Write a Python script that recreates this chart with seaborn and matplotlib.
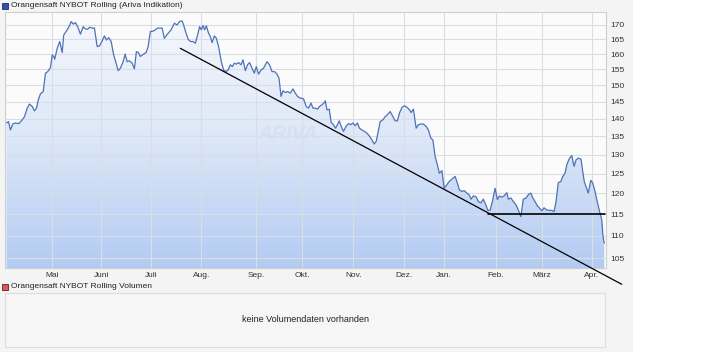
import numpy as np
import pandas as pd
import seaborn as sns
import matplotlib.pyplot as plt
from matplotlib.patches import Rectangle
from matplotlib.colors import LinearSegmentedColormap
from matplotlib.ticker import FixedLocator, FixedFormatter, NullLocator

# Position auf der Zeitachse (Handelstage ab Start) und Kurs
tag = [
    0.4, 1.2, 2.0, 2.9, 4.0, 5.3, 6.7, 7.6, 8.7, 9.6, 10.7, 11.6, 12.4, 13.1, 14.0, 15.1,
    16.0, 16.9, 18.0, 18.7, 19.3, 19.7, 20.7, 21.7, 22.7, 23.3, 24.7, 25.6, 26.3, 27.1,
    28.0, 28.9, 30.0, 31.1, 32.0, 32.9, 33.7, 34.7, 35.6, 36.7, 37.6, 38.7, 39.6, 40.4,
    41.3, 42.3, 43.3, 44.3, 45.1, 46.0, 47.1, 47.9, 48.7, 49.6, 50.7, 51.6, 52.4, 53.2,
    54.0, 55.1, 56.3, 57.1, 58.0, 59.3,
    60.9, 62.7, 63.6, 64.9, 66.3, 67.6, 68.7, 69.7, 70.7, 71.3, 72.3, 73.1, 74.0, 75.1,
    76.0, 76.9, 77.7, 78.4, 79.1, 79.7, 80.4, 81.3, 82.0, 82.7, 83.6, 84.4, 85.3, 86.4,
    87.3, 88.3, 89.1, 90.0, 90.8, 91.6, 92.4, 93.3, 94.3, 95.1, 96.0, 96.9, 97.7, 98.7,
    99.6, 100.4, 101.3, 102.3, 103.3, 104.7, 105.7, 106.7, 107.7, 108.7, 109.5, 110.3,
    111.1, 112.0, 112.9, 114.0, 115.1, 116.0, 116.9, 118.0,
    119.3, 120.4, 121.3, 122.3, 123.1, 124.0, 124.9, 125.7, 126.7, 127.6, 128.0, 128.7,
    129.6, 130.4, 131.3, 132.1, 132.9, 133.6, 134.4, 135.3, 136.3, 137.3, 138.3, 139.1,
    140.0, 140.9, 141.7, 142.7, 143.7, 144.7, 145.7, 146.7, 147.6, 148.4, 149.3, 150.0,
    151.1, 152.0, 152.9, 154.0, 155.1, 156.0, 156.9, 157.7, 158.7, 159.6, 160.7, 161.7,
    162.4, 163.3, 164.4, 165.3, 166.3, 167.3, 168.4, 169.3, 170.3, 171.1, 172.0, 172.9,
    173.7, 174.7, 175.6, 176.7, 177.6, 178.7,
    180.0, 180.9, 181.7, 182.7, 183.6, 184.7, 185.6, 186.4, 187.3, 188.4, 189.3, 190.3,
    191.3, 192.3, 193.1, 194.0, 194.9, 196.0, 196.9, 197.7, 198.7, 199.6, 200.7, 201.3,
    202.3, 203.3, 204.4, 205.3, 206.3, 207.3, 208.4, 209.3, 210.3, 211.1, 212.0, 212.9,
    213.7, 214.7, 215.6, 216.7, 217.7, 218.7, 219.6, 220.4, 221.3, 222.3, 223.1, 224.0,
    224.7, 225.6, 226.7, 227.6, 228.4, 229.3, 230.4, 231.1, 231.7, 232.4, 233.3, 234.3,
    235.1, 236.0, 236.9, 238.0, 238.7, 239.2, 239.7,
]
kurs = [
    138.8, 139.2, 136.8, 138.5, 138.8, 138.6, 139.7, 140.6, 143.1, 144.3, 143.6, 142.3,
    143.1, 145.5, 147.4, 148.1, 153.8, 154.3, 155.6, 159.7, 159.2, 158.3, 161.9, 164.2,
    160.5, 166.4, 168.2, 169.6, 171.1, 170.2, 170.7, 169.3, 166.7, 169.3, 168.5, 168.4,
    169.1, 168.8, 168.8, 162.5, 162.7, 164.4, 166.1, 164.7, 165.5, 164.2, 159.7, 157.0,
    154.6, 155.4, 157.5, 160.0, 157.5, 157.8, 157.0, 155.2, 160.8, 160.5, 159.2, 159.9,
    160.5, 162.5, 167.6, 167.8,
    168.8, 168.8, 165.3, 166.8, 168.2, 170.5, 169.9, 171.1, 171.3, 169.9, 167.0, 165.0,
    164.2, 164.2, 163.6, 166.4, 169.3, 168.2, 169.7, 168.2, 169.6, 167.0, 165.9, 163.8,
    166.1, 165.3, 162.5, 157.5, 154.8, 154.3, 154.8, 156.5, 155.9, 157.0, 156.7, 157.2,
    156.5, 158.1, 154.6, 156.5, 157.2, 155.4, 153.8, 155.9, 153.5, 154.8, 155.4, 157.5,
    156.5, 154.3, 154.3, 153.5, 152.2, 146.6, 148.3, 147.8, 148.1, 147.6, 148.9, 147.6,
    146.6, 146.1,
    145.9, 143.6, 143.1, 144.6, 143.1, 143.1, 142.8, 143.6, 144.1, 144.7, 145.3, 142.6,
    142.8, 138.9, 138.3, 137.3, 138.3, 139.4, 137.8, 136.4, 137.8, 138.6, 138.3, 138.8,
    138.0, 138.8, 137.3, 136.8, 136.4, 135.9, 135.1, 134.0, 132.9, 133.6, 136.8, 139.2,
    139.7, 140.6, 141.2, 142.1, 140.6, 139.4, 139.4, 141.6, 143.3, 143.8, 143.4, 142.6,
    141.8, 142.8, 137.3, 138.3, 138.5, 138.5, 137.8, 136.8, 134.5, 134.0, 129.5, 127.3,
    125.1, 125.8, 121.3, 122.2, 123.0, 123.6,
    124.3, 122.6, 120.9, 120.5, 120.7, 120.1, 119.7, 118.6, 119.4, 119.2, 118.0, 117.7,
    118.6, 117.2, 115.9, 115.9, 118.0, 121.3, 118.5, 119.4, 119.1, 119.4, 120.2, 118.6,
    118.9, 118.0, 117.2, 116.0, 114.4, 118.6, 118.9, 119.7, 120.1, 118.9, 118.0, 117.0,
    116.5, 115.8, 116.5, 116.0, 115.9, 115.9, 115.6, 118.0, 122.7, 123.0, 124.3, 125.1,
    127.3, 128.8, 129.8, 126.9, 128.6, 129.1, 128.8, 125.5, 123.0, 121.7, 120.1, 123.3,
    122.6, 120.5, 118.0, 115.2, 113.7, 109.8, 108.3,
]

monat_pos = [18.8, 38.4, 58.4, 78.4, 100.4, 118.8, 139.2, 159.6, 175.6, 196.4, 214.8, 234.8]
monat_labels = ["Mai", "Juni", "Juli", "Aug.", "Sep.", "Okt.", "Nov.", "Dez.", "Jan.",
                "Feb.", "März", "Apr."]
kurs_ticks = [105, 110, 115, 120, 125, 130, 135, 140, 145, 150, 155, 160, 165, 170]

# gezeichnete Trendlinien
trend_x = [70.0, 246.7]
trend_y = [161.9, 99.5]
support_x = [193.1, 240.0]
support_y = [115, 115]

sns.set_theme(style="white")
plt.rcParams["font.family"] = ["Liberation Sans", "DejaVu Sans"]

W, H = 716, 352
fig = plt.figure(figsize=(W / 100, H / 100), dpi=100)
fig.patch.set_facecolor("white")
fig.patches.append(Rectangle((0, 0), 633 / W, 1, transform=fig.transFigure,
                             facecolor="#f4f4f4", edgecolor="none", zorder=-10))

ax = fig.add_axes([5 / W, 1 - 268 / H, 601 / W, 256 / H])
ax.set_facecolor("#fbfbfb")
ymin, ymax = 102.9, 174.5

df = pd.DataFrame({"tag": tag, "kurs": kurs})
sns.lineplot(data=df, x="tag", y="kurs", ax=ax, color="#4e72b6", linewidth=0.9, zorder=4)
ax.set_yscale("log")
ax.set_xlim(-0.2, 240.4)
ax.set_ylim(ymin, ymax)
ax.set_autoscale_on(False)

# Farbverlauf unter der Kurve
poly = ax.fill_between(tag, kurs, ymin, facecolor="none", edgecolor="none")
cmap = LinearSegmentedColormap.from_list("fill", ["#f6f8fc", "#dce7f8", "#b3cbf2"])
grad = np.linspace(0, 1, 256).reshape(-1, 1)
im = ax.imshow(grad, cmap=cmap, aspect="auto", extent=(0, 1, 0, 1),
               transform=ax.transAxes, origin="upper", zorder=1)
im.set_clip_path(poly.get_paths()[0], transform=ax.transData)

ax.grid(True, color="#d9dde4", linewidth=0.8)
ax.set_axisbelow(False)

ax.plot(trend_x, trend_y, color="black", linewidth=0.9, clip_on=False, zorder=5)
ax.plot(support_x, support_y, color="black", linewidth=1.2, zorder=5)

ax.text(0.471, 0.523, "ARIVA", transform=ax.transAxes, fontsize=14, fontweight="bold",
        fontstyle="italic", color="#d3dae6", alpha=0.5, ha="center", va="center", zorder=2)

ax.yaxis.tick_right()
ax.yaxis.set_major_locator(FixedLocator(kurs_ticks))
ax.yaxis.set_major_formatter(FixedFormatter([str(v) for v in kurs_ticks]))
ax.yaxis.set_minor_locator(NullLocator())
ax.set_xticks(monat_pos, monat_labels)
ax.tick_params(axis="both", length=0, labelsize=6, colors="#333333")
ax.tick_params(axis="y", pad=3)
ax.tick_params(axis="x", pad=3)
ax.set_xlabel("")
ax.set_ylabel("")
for s in ax.spines.values():
    s.set_color("#cfcfcf")
    s.set_linewidth(0.8)

# Kopfzeile
fig.patches.append(Rectangle((2 / W, 1 - 9 / H), 6 / W, 6 / H, transform=fig.transFigure,
                             facecolor="#2f52a8", edgecolor="#1c2f6b", linewidth=0.6))
fig.text(11 / W, 1 - 5.5 / H, "Orangensaft NYBOT Rolling (Ariva Indikation)",
         fontsize=6, va="center", ha="left", color="#222222")

# Volumen-Panel
fig.patches.append(Rectangle((2 / W, 1 - 289.5 / H), 6 / W, 6 / H, transform=fig.transFigure,
                             facecolor="#d85a5a", edgecolor="#6b1c1c", linewidth=0.6))
fig.text(11 / W, 1 - 286.5 / H, "Orangensaft NYBOT Rolling Volumen",
         fontsize=6, va="center", ha="left", color="#222222")

ax2 = fig.add_axes([5 / W, 1 - 346.7 / H, 600 / W, 54 / H])
ax2.set_facecolor("#f6f6f6")
ax2.set_xticks([])
ax2.set_yticks([])
for s in ax2.spines.values():
    s.set_color("#dddddd")
    s.set_linewidth(0.8)
ax2.text(0.5, 0.5, "keine Volumendaten vorhanden", transform=ax2.transAxes,
         fontsize=6.5, ha="center", va="center", color="#222222")

fig.savefig("out.png", dpi=100)
